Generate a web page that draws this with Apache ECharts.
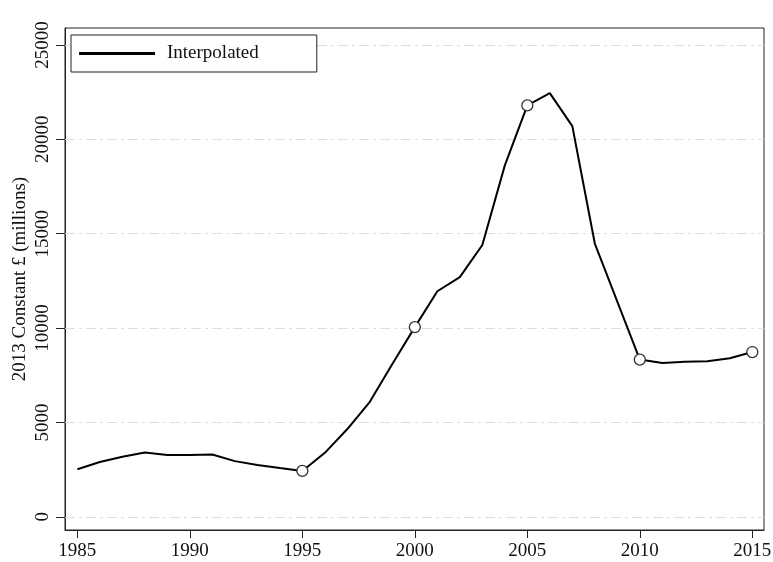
<!DOCTYPE html>
<html>
<head>
<meta charset="utf-8">
<script src="https://cdn.jsdelivr.net/npm/echarts@6/dist/echarts.min.js"></script>
<style>html,body{margin:0;padding:0;background:#fff}#c{width:773px;height:562px}</style>
</head>
<body>
<div id="c"></div>
<script>
var years = [1985,1986,1987,1988,1989,1990,1991,1992,1993,1994,1995,1996,1997,1998,1999,2000,2001,2002,2003,2004,2005,2006,2007,2008,2009,2010,2011,2012,2013,2014,2015];
var values = [2520,2900,3180,3410,3270,3280,3300,2950,2740,2580,2430,3390,4650,6090,8100,10050,11950,12700,14400,18620,21800,22450,20700,14480,11400,8330,8150,8210,8240,8400,8730];
var markerYears = [1995,2000,2005,2010,2015];
var xTicks = [1985,1990,1995,2000,2005,2010,2015];
var yTicks = [0,5000,10000,15000,20000,25000];
var seriesName = 'Interpolated';
var yTitle = '2013 Constant £ (millions)';

var font = 'Liberation Serif';
var data = years.map(function(y,i){
  var m = markerYears.indexOf(y) >= 0;
  return {value:[y, values[i]], symbol: m ? 'circle' : 'none', symbolSize: 11};
});
var plain = function(v){ return String(v); };
var chart = echarts.init(document.getElementById('c'), null, {renderer:'canvas'});
chart.setOption({
  animation:false,
  backgroundColor:'#fff',
  grid:{left:65, top:28, right:9, bottom:32, outerBoundsMode:'none', containLabel:false,
        show:true, borderColor:'#222', borderWidth:1, backgroundColor:'transparent'},
  legend:{
    left:71, top:35, orient:'horizontal',
    padding:[9,58,9,8],
    borderColor:'#222', borderWidth:1, backgroundColor:'#fff',
    itemWidth:76, itemHeight:3, icon:'rect',
    itemStyle:{color:'#000', borderWidth:0},
    textStyle:{fontFamily:font, fontSize:19, color:'#111', padding:[0,0,0,7]},
    data:[seriesName]
  },
  xAxis:{
    type:'value', min:1984.45, max:2015.52,
    axisLine:{show:true, onZero:false, lineStyle:{color:'#222', width:1}},
    axisTick:{show:true, length:8, customValues:xTicks, lineStyle:{color:'#222'}},
    axisLabel:{customValues:xTicks, formatter:plain, fontFamily:font, fontSize:19, color:'#111', margin:12},
    splitLine:{show:false}
  },
  yAxis:{
    type:'value', min:-700, max:25900,
    name:yTitle, nameLocation:'middle', nameGap:35, nameRotate:90, nameMoveOverlap:false,
    nameTextStyle:{fontFamily:font, fontSize:19, color:'#111'},
    axisLine:{show:true, onZero:false, lineStyle:{color:'#222', width:1}},
    axisTick:{show:true, length:9, customValues:yTicks, lineStyle:{color:'#222'}},
    axisLabel:{customValues:yTicks, formatter:plain, rotate:90, fontFamily:font, fontSize:19, color:'#111', margin:12},
    splitLine:{show:false}
  },
  series:[{
    name:seriesName, type:'line', data:data,
    color:'#000',
    lineStyle:{color:'#000', width:2},
    itemStyle:{color:'#fff', borderColor:'#333', borderWidth:1.3},
    showAllSymbol:true,
    z:3,
    markLine:{
      silent:true, symbol:'none', label:{show:false}, z:1,
      lineStyle:{color:'#dedede', width:1, type:[10,4,3,4]},
      data: yTicks.map(function(v){return {yAxis:v};})
    }
  }]
});
</script>
</body>
</html>
